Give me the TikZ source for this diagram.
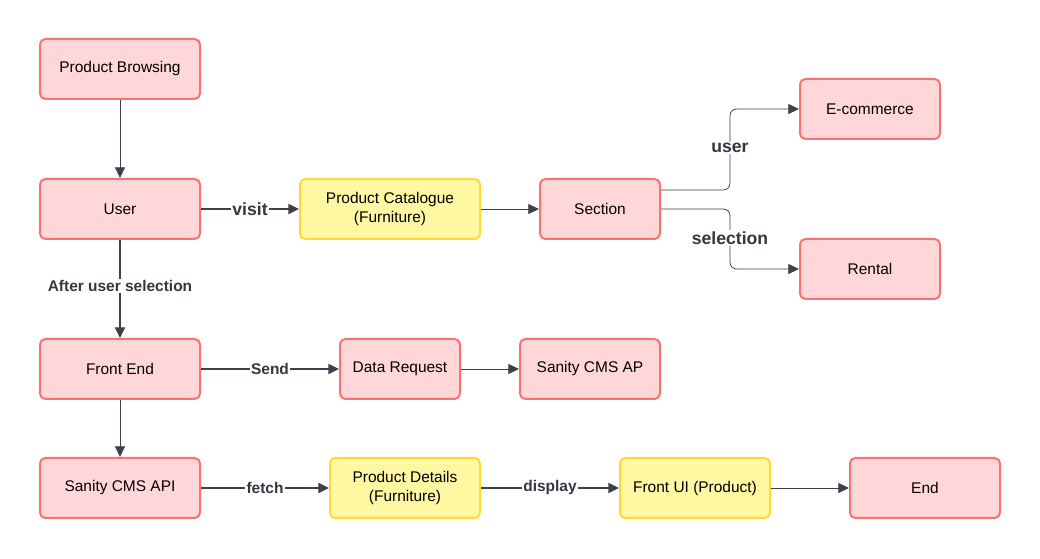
\documentclass[tikz,border=0pt]{standalone}
\usepackage{fontspec}
\setmainfont{Liberation Sans}
\usetikzlibrary{arrows.meta}
\definecolor{pinkfill}{HTML}{FFD7D9}
\definecolor{pinkline}{HTML}{F87272}
\definecolor{yellowfill}{HTML}{FFF7A1}
\definecolor{yellowline}{HTML}{FFD932}
\definecolor{wire}{HTML}{3A414A}
\definecolor{lbltext}{HTML}{333840}

\begin{document}
\begin{tikzpicture}[x=0.75pt,y=-0.75pt,
  pinkbox/.style={draw=pinkline,fill=pinkfill,line width=1.5pt,rounded corners=4pt,
    minimum height=45pt,align=center,font=\fontsize{11.6}{14}\selectfont},
  yellowbox/.style={pinkbox,draw=yellowline,fill=yellowfill},
  thinarrow/.style={draw=wire,line width=0.6pt,-{Triangle[length=8pt,width=7.5pt]}},
  thickarrow/.style={thinarrow,line width=1.6pt},
  lbl/.style={fill=white,inner sep=1pt,text=lbltext,font=\bfseries\fontsize{11.6}{14}\selectfont},
  biglbl/.style={lbl,font=\bfseries\fontsize{13.2}{15}\selectfont}]

\useasboundingbox (0,0) rectangle (1040,559);

% Boxes
\node[pinkbox,minimum width=120pt] (browse) at (120,69) {Product Browsing};
\node[pinkbox,minimum width=120pt] (user) at (120,209) {User};
\node[yellowbox,minimum width=135pt] (catalogue) at (390,209) {Product Catalogue\\(Furniture)};
\node[pinkbox,minimum width=90pt] (section) at (600,209) {Section};
\node[pinkbox,minimum width=105pt] (ecom) at (870,109) {E-commerce};
\node[pinkbox,minimum width=105pt] (rental) at (870,269) {Rental};
\node[pinkbox,minimum width=120pt] (front) at (120,369) {Front End};
\node[pinkbox,minimum width=90pt] (request) at (400,369) {Data Request};
\node[pinkbox,minimum width=105pt] (cmsap) at (590,369) {Sanity CMS AP};
\node[pinkbox,minimum width=120pt] (cmsapi) at (120,488) {Sanity CMS API};
\node[yellowbox,minimum width=112.5pt] (details) at (405,488) {Product Details\\(Furniture)};
\node[yellowbox,minimum width=112.5pt] (frontui) at (695,488) {Front UI (Product)};
\node[pinkbox,minimum width=112.5pt] (finish) at (925,488) {End};

% Connectors
\draw[thinarrow] (browse) -- (user);
\draw[thickarrow] (user) -- node[biglbl] {visit} (catalogue);
\draw[thinarrow] (catalogue) -- (section);
\draw[thinarrow,rounded corners=5pt] (section.east |- 0,190) -| (730,148)
  node[biglbl] {user} |- (ecom);
\draw[thinarrow,rounded corners=5pt] (section.east) -| (730,238)
  node[biglbl] {selection} |- (rental);
\draw[thickarrow] (user) -- node[lbl,pos=0.47] {After user selection} (front);
\draw[thickarrow] (front) -- node[lbl,pos=0.5] {Send} (request);
\draw[thinarrow] (request) -- (cmsap);
\draw[thinarrow] (front) -- (cmsapi);
\draw[thickarrow] (cmsapi) -- node[lbl,pos=0.5] {fetch} (details);
\draw[thickarrow] (details) -- node[lbl,pos=0.5] {display} (frontui);
\draw[thinarrow] (frontui) -- (finish);

\end{tikzpicture}
\end{document}
